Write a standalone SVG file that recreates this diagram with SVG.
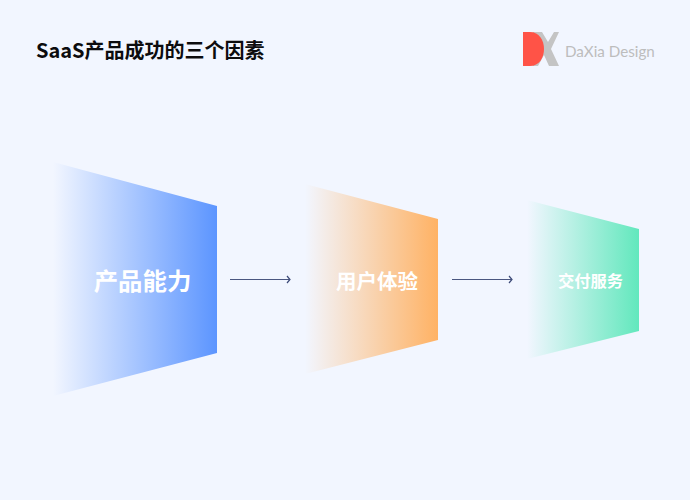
<svg xmlns="http://www.w3.org/2000/svg" width="690" height="500" viewBox="0 0 690 500">
<style>
.cjk{font-family:"Noto Sans CJK SC","Noto Sans",sans-serif;font-weight:700}
.lab{fill:#fff;text-anchor:middle}
.conn{stroke:#4a5680;stroke-width:1.200;fill:none}
</style>
<defs>
<linearGradient id="gb" x1="0" x2="1" y1="0" y2="0"><stop offset="0" stop-color="#5c95ff" stop-opacity="0"/><stop offset="1" stop-color="#5c95ff"/></linearGradient>
<linearGradient id="go" x1="0" x2="1" y1="0" y2="0"><stop offset="0" stop-color="#ffb264" stop-opacity="0"/><stop offset="1" stop-color="#ffb264"/></linearGradient>
<linearGradient id="gg" x1="0" x2="1" y1="0" y2="0"><stop offset="0" stop-color="#62e8bd" stop-opacity="0"/><stop offset="1" stop-color="#62e8bd"/></linearGradient>
<marker id="arr" markerUnits="userSpaceOnUse" markerWidth="8" markerHeight="10" refX="5.500" refY="5" orient="auto"><path d="M3 1.500L6 5L3 8.500" fill="none" stroke="#3c4a78" stroke-width="1.200"/></marker>
</defs>
<rect width="690" height="500" fill="#f2f6ff"/>
<text class="cjk" x="36" y="58" font-size="20" fill="#0c0c0e">SaaS产品成功的三个因素</text>
<g id="logo">
<path d="M533 32H542L548 42L554 32H559L551 49L559 66H549L544 55L538 66H533Z" fill="#c4c4c4"/>
<path d="M523 32H530C539 32 544 40 544 49C544 58 539 66 530 66H523Z" fill="#ff5347"/>
<text x="565" y="57" font-family="Lato,'Noto Sans',sans-serif" font-size="15.200" fill="#bdbdbd">DaXia Design</text>
</g>
<g id="node1">
<polygon points="53,162 217,206 217,353 53,396" fill="url(#gb)"/>
<text class="cjk lab" x="142.500" y="289.500" font-size="24.400">产品能力</text>
</g>
<g id="node2">
<polygon points="305,184 438,219 438,340 305,374" fill="url(#go)"/>
<text class="cjk lab" x="377" y="288.500" font-size="20.500">用户体验</text>
</g>
<g id="node3">
<polygon points="527,200 639,229 639,331 527,359" fill="url(#gg)"/>
<text class="cjk lab" x="590.500" y="286.500" font-size="16.300">交付服务</text>
</g>
<g id="connectors">
<line class="conn" x1="230" y1="279.500" x2="289.500" y2="279.500" marker-end="url(#arr)"/>
<line class="conn" x1="452" y1="279.500" x2="511.500" y2="279.500" marker-end="url(#arr)"/>
</g>
</svg>
